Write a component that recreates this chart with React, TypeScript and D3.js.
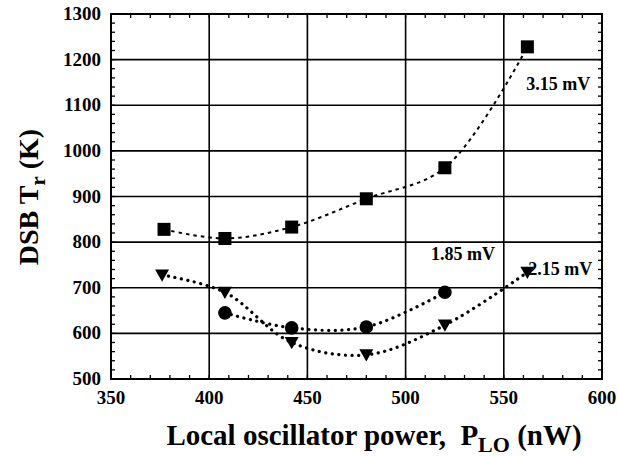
import React from "react";
import * as d3 from "d3";

const xTicks = [350, 400, 450, 500, 550, 600];
const yTicks = [500, 600, 700, 800, 900, 1000, 1100, 1200, 1300];

const sqX = [377, 408, 442, 480, 520, 562];
const sqY = [828, 808, 833, 895, 963, 1228];

const ciX = [408, 442, 480, 520];
const ciY = [645, 612, 614, 690];

const trX = [376, 408, 442, 480, 520, 562];
const trY = [728, 690, 580, 553, 618, 734];

const labels = [
  { text: "3.15 mV", x: 594, y: 1133 },
  { text: "1.85 mV", x: 545.5, y: 761 },
  { text: "2.15 mV", x: 595, y: 728 },
];

const W = 618;
const H = 456;
const FONT = "Liberation Serif, DejaVu Serif, serif";

export default function App() {
  const x = d3.scaleLinear().domain([350, 600]).range([111, 602]);
  const y = d3.scaleLinear().domain([500, 1300]).range([379, 14]);
  const [x0, x1] = x.range();
  const [y0, y1] = y.range();

  const line = d3
    .line<[number, number]>()
    .x((d) => x(d[0]))
    .y((d) => y(d[1]))
    .curve(d3.curveCatmullRom.alpha(0.5));

  const sq = sqX.map((v, i) => [v, sqY[i]] as [number, number]);
  const ci = ciX.map((v, i) => [v, ciY[i]] as [number, number]);
  const tr = trX.map((v, i) => [v, trY[i]] as [number, number]);

  const xMinor = d3.range(350, 601, 10);
  const yMinor = d3.range(500, 1301, 20);
  const tickLen = 4;

  const tri = (cx: number, cy: number, s: number) =>
    `M${cx - s},${cy - s * 0.8}L${cx + s},${cy - s * 0.8}L${cx},${cy + s * 0.95}Z`;

  return (
    <svg
      width={W}
      height={H}
      style={{ position: "absolute", left: 0, top: 0, background: "#fff", fontFamily: FONT, fontWeight: 700 }}
    >
      <rect x={0} y={0} width={W} height={H} fill="#fff" />
      {xTicks.slice(1, -1).map((t) => (
        <line key={"gx" + t} x1={x(t)} x2={x(t)} y1={y1} y2={y0} stroke="#000" strokeWidth={1.6} />
      ))}
      {yTicks.slice(1, -1).map((t) => (
        <line key={"gy" + t} x1={x0} x2={x1} y1={y(t)} y2={y(t)} stroke="#000" strokeWidth={1.6} />
      ))}
      {xMinor.map((t) => (
        <g key={"mx" + t}>
          <line x1={x(t)} x2={x(t)} y1={y0} y2={y0 - tickLen} stroke="#000" strokeWidth={1.3} />
          <line x1={x(t)} x2={x(t)} y1={y1} y2={y1 + tickLen} stroke="#000" strokeWidth={1.3} />
        </g>
      ))}
      {yMinor.map((t) => (
        <g key={"my" + t}>
          <line x1={x0} x2={x0 + tickLen} y1={y(t)} y2={y(t)} stroke="#000" strokeWidth={1.3} />
          <line x1={x1} x2={x1 - tickLen} y1={y(t)} y2={y(t)} stroke="#000" strokeWidth={1.3} />
        </g>
      ))}
      <rect x={x0} y={y1} width={x1 - x0} height={y0 - y1} fill="none" stroke="#000" strokeWidth={2} />

      {xTicks.map((t) => (
        <text key={"xl" + t} x={x(t)} y={404} textAnchor="middle" fontSize={19}>
          {t}
        </text>
      ))}
      {yTicks.map((t) => (
        <text key={"yl" + t} x={101} y={y(t) + 6} textAnchor="end" fontSize={19}>
          {t}
        </text>
      ))}

      <text x={374} y={445} textAnchor="middle" fontSize={29}>
        Local oscillator power,{"\u00a0\u00a0"}P<tspan fontSize={22} dy={7}>LO</tspan>
        <tspan dy={-7}> (nW)</tspan>
      </text>
      <text transform="translate(38,197) rotate(-90)" textAnchor="middle" fontSize={28}>
        DSB T<tspan fontSize={21} dy={7}>r</tspan>
        <tspan dy={-7}> (K)</tspan>
      </text>

      {labels.map((l) => (
        <text key={l.text} x={x(l.x)} y={y(l.y)} textAnchor="end" fontSize={18}>
          {l.text}
        </text>
      ))}

      <path d={line(sq) ?? ""} fill="none" stroke="#000" strokeWidth={2} strokeDasharray="3.5,4" />
      <path d={line(ci) ?? ""} fill="none" stroke="#000" strokeWidth={3.2} strokeDasharray="0.1,6.5" strokeLinecap="round" />
      <path d={line(tr) ?? ""} fill="none" stroke="#000" strokeWidth={3.2} strokeDasharray="0.1,6.5" strokeLinecap="round" />

      {sq.map((d, i) => (
        <rect key={"s" + i} x={x(d[0]) - 6.5} y={y(d[1]) - 6.5} width={13} height={13} fill="#000" />
      ))}
      {ci.map((d, i) => (
        <circle key={"c" + i} cx={x(d[0])} cy={y(d[1])} r={6.8} fill="#000" />
      ))}
      {tr.map((d, i) => (
        <path key={"t" + i} d={tri(x(d[0]), y(d[1]), 7)} fill="#000" />
      ))}
    </svg>
  );
}
